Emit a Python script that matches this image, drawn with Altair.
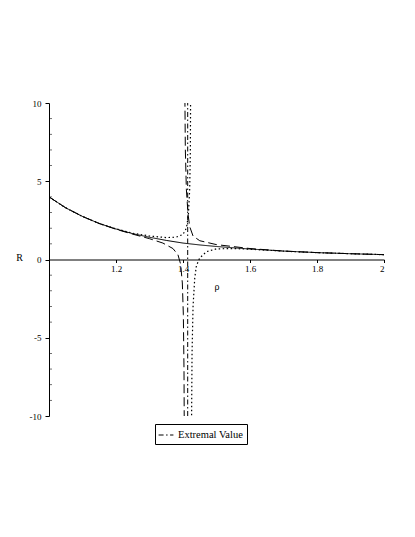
import altair as alt
import pandas as pd

# ---- data ----
solid_rho = [1.0, 1.05, 1.1, 1.15, 1.2, 1.25, 1.3, 1.35, 1.4, 1.45, 1.5, 1.6, 1.7, 1.8, 1.9, 2.0]
solid_R = [4.0, 3.3, 2.75, 2.3, 1.95, 1.65, 1.42, 1.22, 1.05, 0.93, 0.83, 0.67, 0.54, 0.44, 0.37, 0.31]

dash_left_rho = [1.0, 1.05, 1.1, 1.15, 1.2, 1.25, 1.3, 1.34, 1.37, 1.385, 1.393, 1.398, 1.401, 1.403, 1.404]
dash_left_R = [4.0, 3.3, 2.75, 2.3, 1.93, 1.62, 1.33, 1.05, 0.7, 0.3, -0.3, -1.5, -3.5, -7.0, -12.0]
dash_right_rho = [1.405, 1.407, 1.41, 1.415, 1.42, 1.43, 1.45, 1.5, 1.6, 1.7, 1.8, 1.9, 2.0]
dash_right_R = [12.0, 7.0, 4.5, 2.9, 2.1, 1.5, 1.2, 0.95, 0.7, 0.54, 0.44, 0.37, 0.31]

dot_left_rho = [1.0, 1.05, 1.1, 1.15, 1.2, 1.25, 1.3, 1.35, 1.38, 1.4, 1.41, 1.416, 1.42, 1.422, 1.423]
dot_left_R = [4.0, 3.3, 2.75, 2.3, 1.96, 1.68, 1.5, 1.4, 1.43, 1.6, 2.0, 2.8, 4.5, 7.0, 12.0]
dot_right_rho = [1.425, 1.427, 1.43, 1.435, 1.44, 1.45, 1.47, 1.5, 1.55, 1.6, 1.7, 1.8, 1.9, 2.0]
dot_right_R = [-12.0, -6.0, -3.0, -1.2, -0.4, 0.1, 0.5, 0.68, 0.7, 0.66, 0.53, 0.44, 0.37, 0.31]

extremal_rho = [1.414]
extremal_lo = [-10]
extremal_hi = [10]
extremal_label = ["Extremal Value"]

x_ticks = [1.2, 1.4, 1.6, 1.8, 2.0]
y_ticks = [-10, -5, 0, 5, 10]
y_minor = [-9, -8, -7, -6, -4, -3, -2, -1, 1, 2, 3, 4, 6, 7, 8, 9]

# ---- tables ----
def frame(rho, R, branch):
    return pd.DataFrame({"rho": rho, "R": R, "branch": branch})

solid_df = frame(solid_rho, solid_R, "s")
dash_df = pd.concat([frame(dash_left_rho, dash_left_R, "l"), frame(dash_right_rho, dash_right_R, "r")])
dot_df = pd.concat([frame(dot_left_rho, dot_left_R, "l"), frame(dot_right_rho, dot_right_R, "r")])
ext_df = pd.DataFrame({"rho": extremal_rho, "lo": extremal_lo, "hi": extremal_hi, "label": extremal_label})

W, H = 335, 313
FONT = "Liberation Serif"

xscale = alt.Scale(domain=[1, 2], nice=False, zero=False)
yscale = alt.Scale(domain=[-10, 10], nice=False)

xaxis = alt.Axis(values=x_ticks, title="ρ", offset=-H / 2, grid=False, tickSize=3,
                 labelPadding=2, titleFontWeight="normal", titleFontSize=10,
                 titlePadding=8, labelExpr="'' + datum.value")
yaxis = alt.Axis(values=y_ticks, title="R", grid=False, tickSize=4, titleAngle=0,
                 titleX=-30, titleY=H / 2 + 3, titleFontWeight="normal", titleFontSize=10,
                 labelPadding=4, labelExpr="'' + datum.value")

def curve(df, dash, width=1.0):
    return alt.Chart(df).mark_line(color="black", strokeWidth=width, strokeDash=dash, clip=True).encode(
        x=alt.X("rho:Q", scale=xscale, axis=xaxis),
        y=alt.Y("R:Q", scale=yscale, axis=yaxis),
        detail="branch:N",
        order="rho:Q",
    )

solid = curve(solid_df, [1, 0])
dashed = curve(dash_df, [9, 4])
dotted = curve(dot_df, [1.5, 2.5], 1.2)

minor = alt.Chart(pd.DataFrame({"v": y_minor})).mark_tick(color="black", size=3, thickness=0.8).encode(
    y=alt.Y("v:Q", scale=yscale, axis=yaxis),
    x=alt.value(1.5),
)

ext = alt.Chart(ext_df).mark_rule(color="black", strokeWidth=1).encode(
    x=alt.X("rho:Q", scale=xscale, axis=xaxis),
    y=alt.Y("lo:Q", scale=yscale, axis=yaxis),
    y2="hi:Q",
    strokeDash=alt.StrokeDash(
        "label:N",
        scale=alt.Scale(domain=extremal_label, range=[[5, 2.5, 1.5, 2.5]]),
        legend=alt.Legend(title=None, orient="none", legendX=106, legendY=H + 8,
                          symbolType="stroke", symbolSize=220, symbolStrokeWidth=1,
                          symbolStrokeColor="black", labelFont=FONT, labelFontSize=10.5,
                          labelColor="black", strokeColor="black", padding=3,
                          cornerRadius=0),
    ),
)

chart = alt.layer(solid, dashed, dotted, ext, minor).properties(
    width=W, height=H,
    autosize=alt.AutoSizeParams(type="none"),
    padding={"left": 41, "top": 95, "right": 20, "bottom": 100},
).configure_axis(
    labelFont=FONT, titleFont=FONT, labelFontSize=9, labelColor="black",
    titleColor="black", domainColor="black", tickColor="black", domainWidth=1,
).configure_view(stroke=None)

chart.save("out.html", embed_options={"renderer": "svg", "actions": False})
